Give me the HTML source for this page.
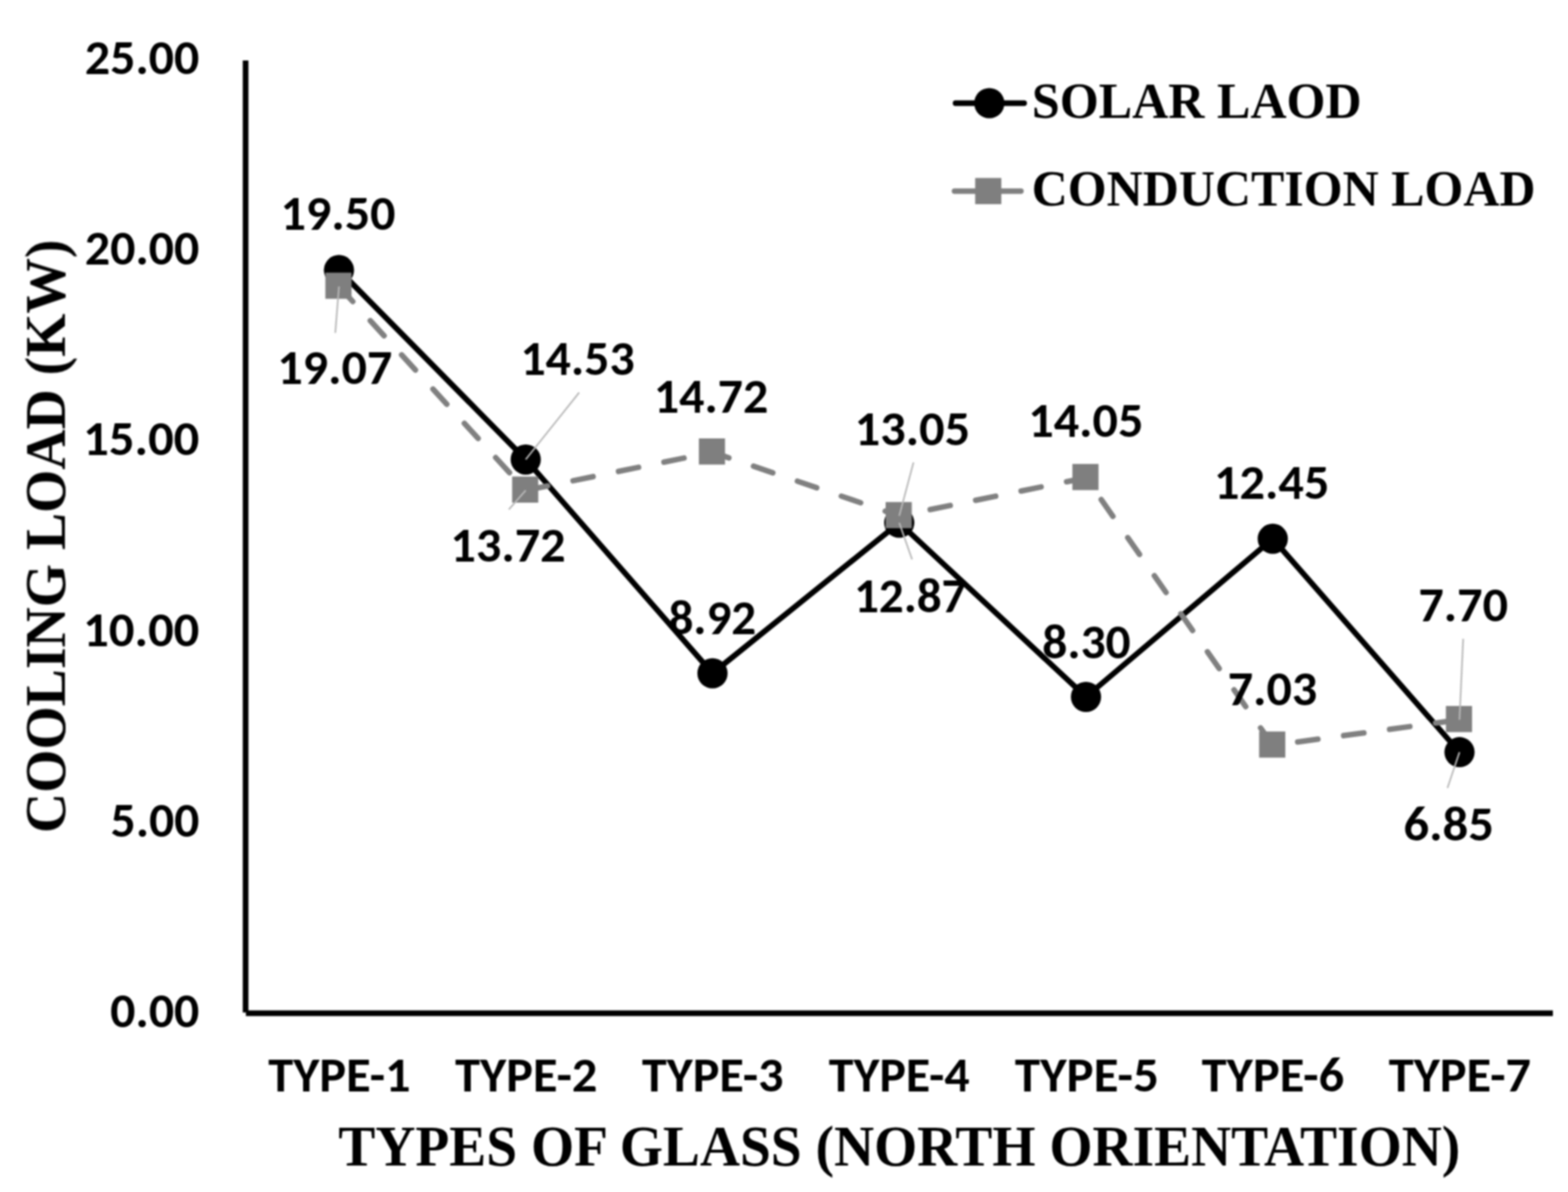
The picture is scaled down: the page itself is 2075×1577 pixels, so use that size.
<!DOCTYPE html><html><head><meta charset="utf-8"><title>Cooling load chart</title><style>
html,body{margin:0;padding:0;background:#fff;}
svg{display:block;width:2075px;height:1577px;}
.s{font-family:Carlito, 'Liberation Sans', sans-serif;font-weight:bold;fill:#000;font-size-adjust:cap-height 0.6484;}
.r{font-family:'Liberation Serif', 'Times New Roman', serif;font-weight:bold;fill:#000;}
</style></head><body>
<svg width="2075" height="1577" viewBox="0 0 2075 1577">
<rect x="0" y="0" width="2075" height="1577" fill="#fff"/>
<defs><filter id="soft" x="0" y="0" width="100%" height="100%" filterUnits="userSpaceOnUse" color-interpolation-filters="sRGB"><feGaussianBlur stdDeviation="0.8"/></filter></defs>
<g filter="url(#soft)">
<g id="axes">
<line x1="325" y1="80" x2="325" y2="1339.5" stroke="#000" stroke-width="7.5"/>
<line x1="325.4" y1="1340.5" x2="2055" y2="1340.5" stroke="#000" stroke-width="7.5"/>
</g>
<g id="series">
<polyline points="448.57,357.31 695.71,607.90 942.86,890.75 1190.00,691.59 1437.14,922.01 1684.29,712.77 1931.43,995.12" fill="none" stroke="#000" stroke-width="7.4" stroke-linejoin="round" stroke-linecap="round"/>
<circle cx="448.57" cy="357.31" r="20" fill="#000"/>
<circle cx="695.71" cy="607.90" r="20" fill="#000"/>
<circle cx="942.86" cy="890.75" r="20" fill="#000"/>
<circle cx="1190.00" cy="691.59" r="20" fill="#000"/>
<circle cx="1437.14" cy="922.01" r="20" fill="#000"/>
<circle cx="1684.29" cy="712.77" r="20" fill="#000"/>
<circle cx="1931.43" cy="995.12" r="20" fill="#000"/>
<polyline points="448.57,378.99 695.71,648.74 942.86,598.32 1190.00,682.52 1437.14,632.10 1684.29,986.05 1931.43,952.27" fill="none" stroke="#808080" stroke-width="7.3" stroke-dasharray="27 34.4" stroke-dashoffset="0" stroke-linejoin="round" stroke-linecap="round"/>
<rect x="430.57" y="360.69" width="34.60" height="34.60" fill="#7f7f7f"/>
<rect x="677.71" y="630.44" width="34.60" height="34.60" fill="#7f7f7f"/>
<rect x="924.86" y="580.02" width="34.60" height="34.60" fill="#7f7f7f"/>
<rect x="1172.00" y="664.22" width="34.60" height="34.60" fill="#7f7f7f"/>
<rect x="1419.14" y="613.80" width="34.60" height="34.60" fill="#7f7f7f"/>
<rect x="1666.29" y="967.75" width="34.60" height="34.60" fill="#7f7f7f"/>
<rect x="1913.43" y="933.97" width="34.60" height="34.60" fill="#7f7f7f"/>
</g>
<g id="leaders" stroke="#b8b8b8" stroke-width="2.2" fill="none">
<line x1="443.7" y1="440.3" x2="448.6" y2="379.0"/>
<line x1="766.5" y1="519.3" x2="695.7" y2="607.9"/>
<line x1="673.4" y1="674.1" x2="695.7" y2="648.7"/>
<line x1="1208.9" y1="611.8" x2="1190.0" y2="682.5"/>
<line x1="1207.0" y1="740.2" x2="1190.0" y2="691.6"/>
<line x1="1936.3" y1="845.1" x2="1931.4" y2="952.3"/>
<line x1="1915.5" y1="1042.5" x2="1931.4" y2="995.1"/>
</g>
<g id="legend">
<line x1="1264.5" y1="136.5" x2="1355.3" y2="136.5" stroke="#000" stroke-width="7.4" stroke-linecap="round"/>
<circle cx="1309.2" cy="136.5" r="20" fill="#000"/>
<line x1="1263.1" y1="252.8" x2="1351.1" y2="252.8" stroke="#808080" stroke-width="7.3" stroke-dasharray="27 34.4" stroke-linecap="round"/>
<rect x="1290.50" y="235.50" width="34.60" height="34.60" fill="#7f7f7f"/>
</g>
<g id="texts">
<text id="yt2500" x="263.80" y="98.45" font-size="65.00" text-anchor="end" textLength="151.59" lengthAdjust="spacingAndGlyphs" class="s">25.00</text>
<text id="yt2000" x="263.80" y="350.25" font-size="65.00" text-anchor="end" textLength="151.59" lengthAdjust="spacingAndGlyphs" class="s">20.00</text>
<text id="yt1500" x="263.80" y="602.45" font-size="65.00" text-anchor="end" textLength="153.70" lengthAdjust="spacingAndGlyphs" class="s">15.00</text>
<text id="yt1000" x="263.80" y="854.65" font-size="65.00" text-anchor="end" textLength="153.70" lengthAdjust="spacingAndGlyphs" class="s">10.00</text>
<text id="yt500" x="263.80" y="1107.05" font-size="65.00" text-anchor="end" textLength="117.44" lengthAdjust="spacingAndGlyphs" class="s">5.00</text>
<text id="yt000" x="263.80" y="1358.90" font-size="65.00" text-anchor="end" textLength="117.94" lengthAdjust="spacingAndGlyphs" class="s">0.00</text>
<text id="dl1950" x="447.30" y="304.45" font-size="65.00" text-anchor="middle" textLength="152.06" lengthAdjust="spacingAndGlyphs" class="s">19.50</text>
<text id="dl1907" x="443.10" y="507.85" font-size="65.00" text-anchor="middle" textLength="152.19" lengthAdjust="spacingAndGlyphs" class="s">19.07</text>
<text id="dl1453" x="764.30" y="496.30" font-size="65.00" text-anchor="middle" textLength="151.23" lengthAdjust="spacingAndGlyphs" class="s">14.53</text>
<text id="dl1372" x="672.30" y="742.80" font-size="65.00" text-anchor="middle" textLength="152.40" lengthAdjust="spacingAndGlyphs" class="s">13.72</text>
<text id="dl1472" x="941.00" y="545.80" font-size="65.00" text-anchor="middle" textLength="151.45" lengthAdjust="spacingAndGlyphs" class="s">14.72</text>
<text id="dl892" x="942.70" y="838.70" font-size="65.00" text-anchor="middle" textLength="115.89" lengthAdjust="spacingAndGlyphs" class="s">8.92</text>
<text id="dl1305" x="1207.40" y="589.45" font-size="65.00" text-anchor="middle" textLength="152.84" lengthAdjust="spacingAndGlyphs" class="s">13.05</text>
<text id="dl1287" x="1204.60" y="810.30" font-size="65.00" text-anchor="middle" textLength="148.83" lengthAdjust="spacingAndGlyphs" class="s">12.87</text>
<text id="dl1405" x="1436.90" y="578.45" font-size="65.00" text-anchor="middle" textLength="152.31" lengthAdjust="spacingAndGlyphs" class="s">14.05</text>
<text id="dl830" x="1437.80" y="871.00" font-size="65.00" text-anchor="middle" textLength="116.92" lengthAdjust="spacingAndGlyphs" class="s">8.30</text>
<text id="dl1245" x="1682.80" y="659.80" font-size="65.00" text-anchor="middle" textLength="152.63" lengthAdjust="spacingAndGlyphs" class="s">12.45</text>
<text id="dl703" x="1683.90" y="933.30" font-size="65.00" text-anchor="middle" textLength="118.51" lengthAdjust="spacingAndGlyphs" class="s">7.03</text>
<text id="dl770" x="1936.30" y="822.40" font-size="65.00" text-anchor="middle" textLength="118.80" lengthAdjust="spacingAndGlyphs" class="s">7.70</text>
<text id="dl685" x="1917.10" y="1112.20" font-size="65.00" text-anchor="middle" textLength="119.69" lengthAdjust="spacingAndGlyphs" class="s">6.85</text>
<text id="cat1" x="449.14" y="1444.40" font-size="65.00" text-anchor="middle" textLength="188.40" lengthAdjust="spacingAndGlyphs" class="s">TYPE-1</text>
<text id="cat2" x="696.43" y="1444.40" font-size="65.00" text-anchor="middle" textLength="188.40" lengthAdjust="spacingAndGlyphs" class="s">TYPE-2</text>
<text id="cat3" x="943.21" y="1444.40" font-size="65.00" text-anchor="middle" textLength="187.36" lengthAdjust="spacingAndGlyphs" class="s">TYPE-3</text>
<text id="cat4" x="1190.00" y="1444.40" font-size="65.00" text-anchor="middle" textLength="186.34" lengthAdjust="spacingAndGlyphs" class="s">TYPE-4</text>
<text id="cat5" x="1438.29" y="1444.40" font-size="65.00" text-anchor="middle" textLength="190.50" lengthAdjust="spacingAndGlyphs" class="s">TYPE-5</text>
<text id="cat6" x="1684.57" y="1444.40" font-size="65.00" text-anchor="middle" textLength="188.40" lengthAdjust="spacingAndGlyphs" class="s">TYPE-6</text>
<text id="cat7" x="1931.86" y="1444.40" font-size="65.00" text-anchor="middle" textLength="188.40" lengthAdjust="spacingAndGlyphs" class="s">TYPE-7</text>
<text id="xtitle" x="1190.10" y="1542.10" font-size="76.00" text-anchor="middle" textLength="1484.79" lengthAdjust="spacingAndGlyphs" class="r">TYPES OF GLASS (NORTH ORIENTATION)</text>
<text id="ytitle" x="86.25" y="709.40" font-size="76.00" text-anchor="middle" textLength="785.29" lengthAdjust="spacingAndGlyphs" class="r" transform="rotate(-90 86.25 709.40)">COOLING LOAD (KW)</text>
<text id="leg1" x="1365.60" y="156.00" font-size="68.00" textLength="436.28" lengthAdjust="spacingAndGlyphs" class="r">SOLAR LAOD</text>
<text id="leg2" x="1365.20" y="272.00" font-size="68.00" textLength="666.83" lengthAdjust="spacingAndGlyphs" class="r">CONDUCTION LOAD</text>
</g>
</g>
</svg></body></html>
